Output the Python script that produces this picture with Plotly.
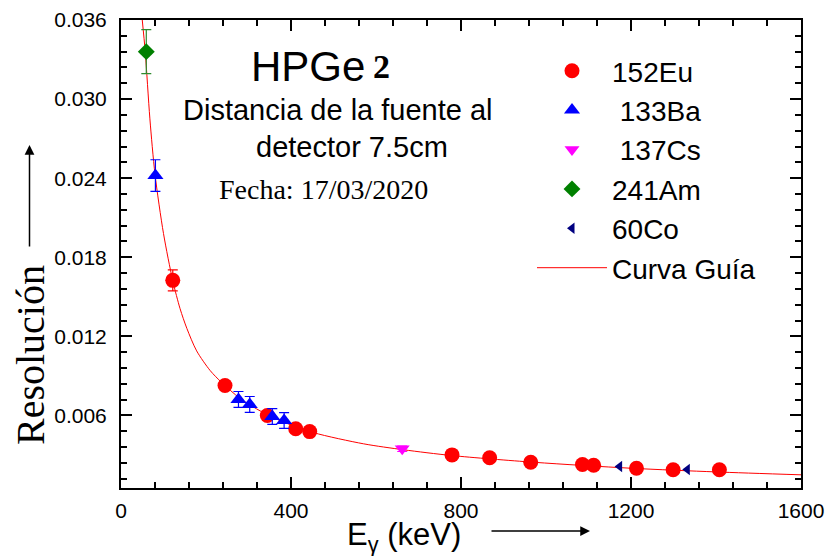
import plotly.graph_objects as go

# Measured energy resolution per source (energy in keV, relative resolution)
eu_energy = [121.8, 244.7, 344.3, 411.1, 444.0, 778.9, 867.4, 964.1, 1085.8, 1112.1, 1212.9, 1299.1, 1408.0]
eu_res = [0.01625, 0.00828, 0.00600, 0.00499, 0.00478, 0.00301, 0.00279, 0.00245, 0.00228, 0.00223, 0.00200, 0.00188, 0.00188]
eu_err = [0.0008, 0.0003, 0.0003, 0.0002, 0.0002, 0.0002, 0.0002, 0.0002, 0.0002, 0.0002, 0.0002, 0.0002, 0.0002]

ba_energy = [81.0, 276.4, 302.9, 356.0, 383.8]
ba_res = [0.0242, 0.00722, 0.00684, 0.00592, 0.00562]
ba_err = [0.0012, 0.0006, 0.0006, 0.0006, 0.0006]

cs_energy = [661.7]
cs_res = [0.00347]
cs_err = [0.0002]

am_energy = [59.5]
am_res = [0.0336]
am_err = [0.00167]

co_energy = [1173.2, 1332.5]
co_res = [0.00213, 0.00190]

# Guide curve sampled along the drawn trend
guide_energy = [50, 57, 68, 80, 100, 122, 139, 155, 178, 210, 237, 280, 330, 375, 453, 571, 665, 779, 972, 1200, 1400, 1600]
guide_res = [0.0360, 0.0336, 0.0285, 0.0243, 0.0198, 0.0162, 0.0141, 0.0126, 0.0109, 0.0094, 0.0085, 0.0073, 0.0063, 0.0056,
             0.0047, 0.00385, 0.0034, 0.00296, 0.00245, 0.0020, 0.00172, 0.0015]

W, H = 825, 556
ML, MR, MT, MB = 121, 24, 20, 68
PW, PH = W - ML - MR, H - MT - MB


def px(x):
    return (x - ML) / PW


def py(y):
    return (H - MB - y) / PH


fig = go.Figure()

fig.add_trace(go.Scatter(
    x=guide_energy, y=guide_res, mode="lines", name="Curva Guía",
    line=dict(color="#ff0000", width=1, shape="spline", smoothing=0.8),
    legendgroup="g6", legendrank=6,
))


def err(vals, color):
    return dict(type="data", array=vals, visible=True, color=color, thickness=1.2, width=5)


fig.add_trace(go.Scatter(
    x=eu_energy, y=eu_res, mode="markers", name="152Eu",
    marker=dict(symbol="circle", size=15, color="#ff0000"),
    error_y=err(eu_err, "#ff0000"), legendgroup="g1", legendrank=1,
))
fig.add_trace(go.Scatter(
    x=ba_energy, y=ba_res, mode="markers", name=" 133Ba",
    marker=dict(symbol="triangle-up", size=14, color="#0000ff"),
    error_y=err(ba_err, "#0000ff"), legendgroup="g2", legendrank=2,
))
fig.add_trace(go.Scatter(
    x=cs_energy, y=cs_res, mode="markers", name=" 137Cs",
    marker=dict(symbol="triangle-down", size=13, color="#ff00ff"),
    error_y=err(cs_err, "#ff00ff"), legendgroup="g3", legendrank=3,
))
fig.add_trace(go.Scatter(
    x=am_energy, y=am_res, mode="markers", name="241Am",
    marker=dict(symbol="diamond", size=13, color="#008000"),
    error_y=err(am_err, "#2e8b2e"), legendgroup="g4", legendrank=4,
))
fig.add_trace(go.Scatter(
    x=co_energy, y=co_res, mode="markers", name="60Co",
    marker=dict(symbol="triangle-left", size=10, color="#000080"),
    legendgroup="g5", legendrank=5,
))

axis_common = dict(
    showline=True, linecolor="black", linewidth=2, mirror="ticks",
    ticks="inside", ticklen=11, tickwidth=1.5, tickcolor="black",
    showgrid=False, zeroline=False, automargin=False,
    tickfont=dict(family="Liberation Sans, Arial", size=21, color="black"),
)

fig.update_xaxes(
    range=[0, 1600], tick0=0, dtick=400, ticklabelstandoff=3,
    minor=dict(dtick=80, ticks="inside", ticklen=6, tickwidth=1.5, tickcolor="black"),
    **axis_common,
)
fig.update_yaxes(
    range=[0.0005, 0.036], tick0=0, dtick=0.006, tickformat=".3f", ticklabelstandoff=8,
    minor=dict(dtick=0.0012, ticks="inside", ticklen=6, tickwidth=1.5, tickcolor="black"),
    **axis_common,
)

annotations = [
    dict(text="HPGe", x=px(308), y=py(66), font=dict(family="Liberation Sans, Arial", size=42, color="black")),
    dict(text="<b>2</b>", x=px(381), y=py(66), font=dict(family="Liberation Serif, Times New Roman", size=34, color="black")),
    dict(text="Distancia de la fuente al", x=px(338), y=py(110), font=dict(family="Liberation Sans, Arial", size=29, color="black")),
    dict(text="detector 7.5cm", x=px(352), y=py(147), font=dict(family="Liberation Sans, Arial", size=29, color="black")),
    dict(text="Fecha: 17/03/2020", x=px(323), y=py(189), font=dict(family="Liberation Serif, Times New Roman", size=28, color="black")),
    dict(text="Resolución", x=px(30), y=py(355), textangle=-90,
         font=dict(family="Liberation Serif, Times New Roman", size=40, color="black")),
    dict(text="E<sub>γ</sub> (keV)", x=px(404), y=py(537),
         font=dict(family="Liberation Sans, Arial", size=31, color="black")),
]
for a in annotations:
    a.update(xref="paper", yref="paper", showarrow=False, xanchor="center", yanchor="middle")

# Direction arrows beside the axis titles
annotations.append(dict(xref="paper", yref="paper", x=px(29.5), y=py(145), ax=0, ay=103, text="",
                        showarrow=True, arrowhead=2, arrowsize=1.3, arrowwidth=1.5, arrowcolor="black"))
annotations.append(dict(xref="paper", yref="paper", x=px(590), y=py(531), ax=-100, ay=0, text="",
                        showarrow=True, arrowhead=2, arrowsize=1.3, arrowwidth=1.5, arrowcolor="black"))

fig.update_layout(
    width=W, height=H,
    margin=dict(l=ML, r=MR, t=MT, b=MB, autoexpand=False),
    paper_bgcolor="white", plot_bgcolor="white",
    annotations=annotations,
    showlegend=True,
    legend=dict(
        x=px(532), y=py(46), xanchor="left", yanchor="top",
        bgcolor="rgba(0,0,0,0)", borderwidth=0,
        font=dict(family="Liberation Sans, Arial", size=28, color="black"),
        tracegroupgap=0, itemwidth=70,
    ),
)

fig.write_html("out.html")
